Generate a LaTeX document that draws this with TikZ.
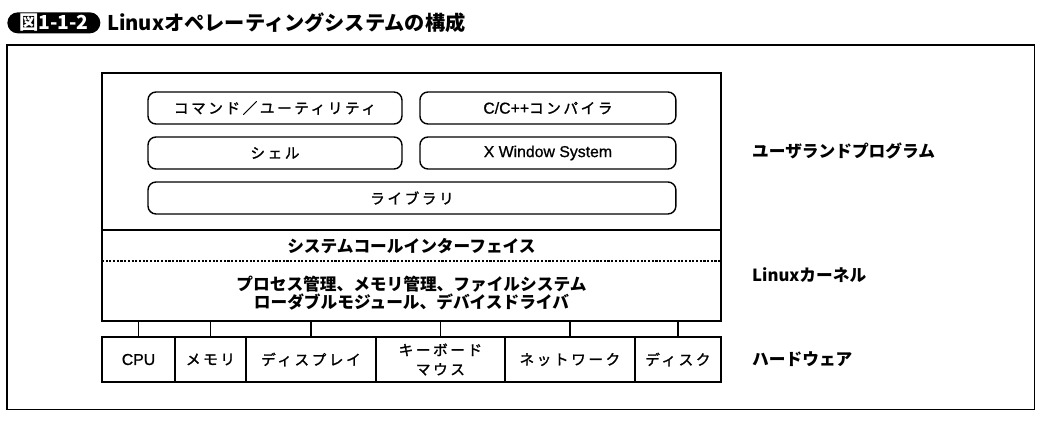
\documentclass[tikz,border=0pt]{standalone}
\usepackage{fontspec}
\setmainfont{Noto Sans CJK JP}
\newfontfamily\jpspaced{Noto Sans CJK JP}[LetterSpace=18, FakeBold=1.5]
\newfontfamily\latinfont{Liberation Sans}[FakeBold=0.8]
\usetikzlibrary{positioning}

\begin{document}
\begin{tikzpicture}[x=0.02cm, y=-0.02cm, node distance=0.26cm,
    layer/.style={rectangle, draw, line width=0.8pt, outer sep=0pt, minimum width=12.38cm},
    app/.style={rectangle, draw, rounded corners=0.16cm, line width=0.8pt, outer sep=0pt, minimum height=0.64cm, text centered, font=\jpspaced\fontsize{8.3}{10}\selectfont},
    hw/.style={rectangle, draw, line width=0.8pt, outer sep=0pt, inner sep=0pt, minimum height=0.9cm, align=center, font=\jpspaced\fontsize{8.3}{11}\selectfont},
    tag/.style={inner sep=0pt, font=\bfseries\fontsize{9.5}{10.2}\selectfont}]

\useasboundingbox (0,0) rectangle (1050,424);

% Title
\node[fill=black, rounded corners=0.21cm, minimum width=1.86cm, minimum height=0.42cm, inner sep=0pt, anchor=north west, text=white, font=\bfseries\fontsize{11}{12}\selectfont] (fig) at (7,12) {図1-1-2};
\node[right=0.12cm of fig, inner sep=0pt, font=\bfseries\fontsize{11.5}{13}\selectfont] (title) {Linuxオペレーティングシステムの構成};

% Outer frame
\node[draw, line width=0.6pt, outer sep=0pt, minimum width=20.56cm, minimum height=7.3cm, anchor=north west] (frame) at (7,45) {};

% Userland programs
\node[layer, minimum height=3.14cm, anchor=north west] (user) at (102,73) {};
\node[app, minimum width=5.08cm, anchor=north west] (cmd) at (148,92) {コマンド／ユーティリティ};
\node[app, minimum width=5.12cm, right=0.36cm of cmd] (cc) {{\latinfont\fontsize{9}{10}\selectfont C/C++}コンパイラ};
\node[app, minimum width=5.08cm, below=of cmd] (shell) {シェル};
\node[app, minimum width=5.12cm, below=of cc] (xwin) {\latinfont\fontsize{9}{10}\selectfont X Window System};
\node[app, minimum width=10.56cm, below right=0.26cm and 0cm of shell.south west] (lib) {ライブラリ};

% Kernel
\node[layer, minimum height=1.82cm, below=0pt of user] (kernel) {};
\node[tag, below=0.15cm of kernel.north] (syscall) {システムコールインターフェイス};
\draw[line width=0.6pt, dash pattern=on 1.2pt off 0.9pt] ([yshift=-0.62cm]kernel.north west) -- ([yshift=-0.62cm]kernel.north east);
\node[tag, align=center, below=0.44cm of syscall] (core) {プロセス管理、メモリ管理、ファイルシステム\\ローダブルモジュール、デバイスドライバ};

% Hardware
\node[hw, minimum width=1.46cm, anchor=north west] (cpu) at (102,337) {\latinfont\fontsize{9}{10}\selectfont CPU};
\node[hw, minimum width=1.42cm, right=0pt of cpu] (mem) {メモリ};
\node[hw, minimum width=2.6cm, right=0pt of mem] (disp) {ディスプレイ};
\node[hw, minimum width=2.58cm, right=0pt of disp] (kbd) {キーボード\\マウス};
\node[hw, minimum width=2.6cm, right=0pt of kbd] (net) {ネットワーク};
\node[hw, minimum width=1.72cm, right=0pt of net] (disk) {ディスク};

% Layer labels
\node[tag, right=0.62cm of user] (lbluser) {ユーザランドプログラム};
\node[tag, right=0.62cm of kernel] (lblkernel) {Linuxカーネル};
\node[tag, right=0.62cm of disk] (lblhw) {ハードウェア};

% Connections
\draw[line width=0.8pt] (cpu.north) -- (cpu.north |- kernel.south);
\draw[line width=0.8pt] (mem.north) -- (mem.north |- kernel.south);
\draw[line width=0.8pt] (disp.north) -- (disp.north |- kernel.south);
\draw[line width=0.8pt] (kbd.north) -- (kbd.north |- kernel.south);
\draw[line width=0.8pt] (net.north) -- (net.north |- kernel.south);
\draw[line width=0.8pt] (disk.north) -- (disk.north |- kernel.south);

\end{tikzpicture}
\end{document}
